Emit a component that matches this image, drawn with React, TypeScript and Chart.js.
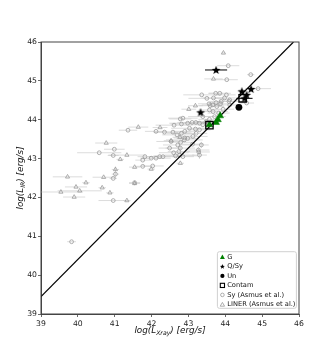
import React, { useEffect, useRef } from "react";
import { Chart, registerables } from "chart.js";
Chart.register(...registerables);

// ---- Data ----
const ticks = [39, 40, 41, 42, 43, 44, 45, 46];

// Sy (Asmus et al.)
const syX = [41.36, 40.99, 40.58, 40.96, 41.82, 41.76, 41.76, 41.02, 40.96, 40.96, 41.54, 39.83,
  43.36, 43.74, 43.85, 44.03, 43.50, 43.59, 43.77, 43.87, 43.67, 43.82, 43.39, 42.85, 42.78, 42.98,
  43.10, 42.81, 43.20, 43.30, 42.61, 42.35, 42.12, 42.58, 42.69, 42.81, 42.90, 43.03, 43.19, 43.30,
  43.21, 43.12, 42.98, 42.89, 42.79, 42.71, 42.53, 42.49, 42.78, 42.74, 42.60, 42.65, 42.76, 42.85,
  43.27, 43.30, 42.31, 42.22, 42.12, 41.99, 42.03, 44.69, 44.04, 44.89, 43.68, 43.75, 43.89, 43.98,
  44.10, 43.56, 43.66, 43.57, 43.94, 44.12, 43.71, 43.57, 43.48, 43.39, 43.35, 44.08, 44.58, 44.12,
  43.28, 43.11, 42.90];
const syY = [43.73, 43.24, 43.15, 43.08, 43.05, 42.96, 42.80, 42.60, 42.49, 41.92, 42.38, 40.86,
  44.64, 44.68, 44.68, 44.64, 44.55, 44.36, 44.34, 44.41, 44.21, 44.17, 44.08, 44.04, 44.02, 43.91,
  43.93, 43.89, 43.93, 43.91, 43.86, 43.68, 43.70, 43.68, 43.61, 43.65, 43.70, 43.78, 43.76, 43.74,
  43.65, 43.57, 43.52, 43.48, 43.42, 43.35, 43.44, 43.27, 43.27, 43.18, 43.15, 43.07, 43.09, 43.05,
  43.22, 43.09, 43.05, 43.05, 43.01, 43.01, 42.81, 45.16, 45.03, 44.80, 44.56, 44.44, 44.47, 44.56,
  44.47, 44.41, 44.38, 44.25, 44.27, 44.38, 44.08, 44.01, 43.95, 43.87, 43.35, 45.39, 44.43, 44.51,
  43.17, 43.37, 43.53];
const syXerr = [0.25, 0.28, 0.6, 0.15, 0.2, 0.2, 0.2, 0.1, 0.1, 0.4, 0.15, 0.12,
  0.5, 0.2, 0.3, 0.25, 0.5, 0.3, 0.2, 0.3, 0.4, 0.3, 0.4, 0.4, 0.3, 0.5,
  0.4, 0.3, 0.3, 0.3, 0.5, 0.3, 0.3, 0.5, 0.4, 0.4, 0.3, 0.5, 0.3, 0.3,
  0.3, 0.4, 0.3, 0.5, 0.3, 0.4, 0.4, 0.3, 0.4, 0.3, 0.4, 0.6, 0.4, 0.3,
  0.3, 0.2, 0.4, 0.3, 0.4, 0.3, 0.3, 0.1, 0.3, 0.35, 0.3, 0.2, 0.3, 0.3,
  0.3, 0.3, 0.3, 0.3, 0.3, 0.3, 0.3, 0.3, 0.3, 0.3, 0.2, 0.3, 0.2, 0.3,
  0.3, 0.3, 0.3];
const syYerr = [0, 0, 0, 0, 0, 0, 0, 0.12, 0, 0, 0.06, 0,
  0, 0, 0, 0, 0, 0, 0, 0, 0, 0, 0, 0, 0, 0,
  0, 0, 0, 0, 0, 0, 0, 0, 0, 0, 0, 0, 0, 0,
  0, 0, 0, 0, 0, 0, 0, 0, 0.08, 0, 0, 0, 0, 0,
  0.08, 0.1, 0, 0, 0, 0, 0, 0, 0, 0, 0, 0, 0, 0,
  0, 0, 0, 0, 0, 0, 0, 0, 0, 0, 0.08, 0, 0, 0,
  0, 0, 0];

// LINER (Asmus et al.)
const linerX = [41.64, 40.77, 41.33, 41.15, 41.54, 41.02, 39.72, 40.22, 40.70, 39.95, 40.66, 40.05,
  39.54, 40.87, 39.90, 41.33, 43.95, 43.68, 43.19, 43.01, 42.23, 41.99, 42.78, 41.54, 42.53, 42.77];
const linerY = [43.81, 43.40, 43.09, 42.98, 42.78, 42.72, 42.53, 42.38, 42.52, 42.27, 42.25, 42.17,
  42.14, 42.12, 42.01, 41.92, 45.72, 45.05, 44.36, 44.27, 43.80, 42.73, 42.88, 42.36, 43.46, 43.55];
const linerXerr = [0.27, 0.3, 0.5, 0.1, 0.15, 0.1, 0.4, 0.1, 0.3, 0.3, 0.1, 0.6,
  0.6, 0.1, 0.3, 0.1, 0.05, 0.25, 0.2, 0.2, 0.2, 0.1, 0.1, 0.15, 0.2, 0.2];
const linerYerr = [0, 0, 0, 0, 0, 0.08, 0, 0, 0, 0, 0, 0,
  0, 0, 0, 0, 0, 0, 0, 0, 0, 0, 0, 0.05, 0, 0];

// This work
const gX = [43.57, 43.75, 43.80, 43.86];
const gY = [43.87, 43.93, 44.0, 44.1];
const qX = [43.75, 43.33, 44.45, 44.58, 44.70, 44.52];
const qY = [45.28, 44.19, 44.73, 44.64, 44.79, 44.55];
const qXerr = [0.3, 0, 0, 0, 0, 0.22];
const unX = [44.37];
const unY = [44.32];
const cX = [43.57, 44.47];
const cY = [43.86, 44.55];

// relation line
const relX = [39, 45.85];
const relY = [39.45, 46];

const legendLabels = ["G", "Q/Sy", "Un", "Contam", "Sy (Asmus et al.)", "LINER (Asmus et al.)"];

const xTitle = ["log(L", "Xray", ") [erg/s]"];
const yTitle = ["log(L", "IR", ") [erg/s]"];

const FONT = "'DejaVu Sans', sans-serif";

function pts(xs: number[], ys: number[]) {
  return xs.map((x, i) => ({ x, y: ys[i] }));
}

function makeStar(r: number) {
  const c = document.createElement("canvas");
  const s = Math.ceil(r * 2 + 2);
  c.width = s;
  c.height = s;
  const ctx = c.getContext("2d")!;
  drawStar(ctx, s / 2, s / 2 + 0.3, r);
  return c;
}

function drawStar(ctx: CanvasRenderingContext2D, cx: number, cy: number, r: number) {
  ctx.save();
  ctx.beginPath();
  for (let i = 0; i < 10; i++) {
    const a = -Math.PI / 2 + (i * Math.PI) / 5;
    const rad = i % 2 === 0 ? r : r * 0.42;
    const px = cx + rad * Math.cos(a);
    const py = cy + rad * Math.sin(a);
    if (i === 0) ctx.moveTo(px, py);
    else ctx.lineTo(px, py);
  }
  ctx.closePath();
  ctx.fillStyle = "#000";
  ctx.fill();
  ctx.restore();
}

function drawTri(ctx: CanvasRenderingContext2D, cx: number, cy: number, r: number) {
  ctx.beginPath();
  ctx.moveTo(cx, cy - r);
  ctx.lineTo(cx + r * 0.95, cy + r * 0.65);
  ctx.lineTo(cx - r * 0.95, cy + r * 0.65);
  ctx.closePath();
}

function drawMixedTitle(ctx: CanvasRenderingContext2D, parts: string[], cx: number, cy: number, rotate: boolean) {
  const main = `italic 8.8px ${FONT}`;
  const sub = `italic 6.2px ${FONT}`;
  ctx.save();
  ctx.font = main;
  const w0 = ctx.measureText(parts[0]).width;
  const w2 = ctx.measureText(parts[2]).width;
  ctx.font = sub;
  const w1 = ctx.measureText(parts[1]).width;
  const total = w0 + w1 + w2;
  ctx.translate(cx, cy);
  if (rotate) ctx.rotate(-Math.PI / 2);
  ctx.fillStyle = "#111";
  ctx.textBaseline = "alphabetic";
  ctx.textAlign = "left";
  let x = -total / 2;
  ctx.font = main;
  ctx.fillText(parts[0], x, 0);
  x += w0;
  ctx.font = sub;
  ctx.fillText(parts[1], x, 2);
  x += w1;
  ctx.font = main;
  ctx.fillText(parts[2], x, 0);
  ctx.restore();
}

const errorBarPlugin = {
  id: "errorBars",
  beforeDatasetsDraw(chart: any) {
    const { ctx, chartArea, scales } = chart;
    const xs = scales.x;
    const ys = scales.y;
    ctx.save();
    ctx.beginPath();
    ctx.rect(chartArea.left, chartArea.top, chartArea.right - chartArea.left, chartArea.bottom - chartArea.top);
    ctx.clip();
    const drawSet = (X: number[], Y: number[], XE: number[], YE: number[] | null, color: string, lw: number) => {
      ctx.strokeStyle = color;
      ctx.lineWidth = lw;
      X.forEach((x, i) => {
        const py = ys.getPixelForValue(Y[i]);
        const px = xs.getPixelForValue(x);
        if (XE[i] > 0) {
          ctx.beginPath();
          ctx.moveTo(xs.getPixelForValue(x - XE[i]), py);
          ctx.lineTo(xs.getPixelForValue(x + XE[i]), py);
          ctx.stroke();
        }
        if (YE && YE[i] > 0) {
          ctx.beginPath();
          ctx.moveTo(px, ys.getPixelForValue(Y[i] - YE[i]));
          ctx.lineTo(px, ys.getPixelForValue(Y[i] + YE[i]));
          ctx.stroke();
        }
      });
    };
    drawSet(syX, syY, syXerr, syYerr, "rgba(205,205,205,0.7)", 1);
    drawSet(linerX, linerY, linerXerr, linerYerr, "rgba(205,205,205,0.7)", 1);
    ctx.restore();
  },
  afterDatasetsDraw(chart: any) {
    const { ctx, scales } = chart;
    const xs = scales.x;
    const ys = scales.y;
    ctx.save();
    ctx.strokeStyle = "#000";
    ctx.lineWidth = 1;
    qX.forEach((x, i) => {
      if (qXerr[i] > 0) {
        const py = ys.getPixelForValue(qY[i]);
        ctx.beginPath();
        ctx.moveTo(xs.getPixelForValue(x - qXerr[i]), py);
        ctx.lineTo(xs.getPixelForValue(x + qXerr[i]), py);
        ctx.stroke();
      }
    });
    ctx.restore();
  },
};

const decorPlugin = {
  id: "decor",
  afterDraw(chart: any) {
    const { ctx, chartArea } = chart;
    const { left, right, top, bottom } = chartArea;
    ctx.save();
    // frame
    ctx.strokeStyle = "#444";
    ctx.lineWidth = 1;
    ctx.strokeRect(left, top, right - left, bottom - top);

    // axis titles
    drawMixedTitle(ctx, xTitle, (left + right) / 2, 332.5, false);
    drawMixedTitle(ctx, yTitle, 22.5, (top + bottom) / 2, true);

    // legend
    const bx = right - 81.6;
    const by = bottom - 62.3;
    const bw = 79;
    const bh = 56.6;
    ctx.beginPath();
    const rr = 2;
    ctx.moveTo(bx + rr, by);
    ctx.lineTo(bx + bw - rr, by);
    ctx.quadraticCurveTo(bx + bw, by, bx + bw, by + rr);
    ctx.lineTo(bx + bw, by + bh - rr);
    ctx.quadraticCurveTo(bx + bw, by + bh, bx + bw - rr, by + bh);
    ctx.lineTo(bx + rr, by + bh);
    ctx.quadraticCurveTo(bx, by + bh, bx, by + bh - rr);
    ctx.lineTo(bx, by + rr);
    ctx.quadraticCurveTo(bx, by, bx + rr, by);
    ctx.closePath();
    ctx.fillStyle = "rgba(255,255,255,0.85)";
    ctx.fill();
    ctx.strokeStyle = "#d0d0d0";
    ctx.lineWidth = 1;
    ctx.stroke();

    const mx = bx + 5;
    const tx = bx + 9.8;
    legendLabels.forEach((lab, i) => {
      const y = by + 5.2 + i * 9.5;
      ctx.save();
      if (i === 0) {
        drawTri(ctx, mx, y + 0.3, 2.6);
        ctx.fillStyle = "#008000";
        ctx.fill();
      } else if (i === 1) {
        drawStar(ctx, mx, y + 0.3, 2.6);
      } else if (i === 2) {
        ctx.beginPath();
        ctx.arc(mx, y, 2.1, 0, Math.PI * 2);
        ctx.fillStyle = "#000";
        ctx.fill();
      } else if (i === 3) {
        ctx.strokeStyle = "#000";
        ctx.lineWidth = 1.1;
        ctx.strokeRect(mx - 2.1, y - 2.1, 4.2, 4.2);
      } else if (i === 4) {
        ctx.beginPath();
        ctx.arc(mx, y, 1.8, 0, Math.PI * 2);
        ctx.strokeStyle = "#999";
        ctx.lineWidth = 0.8;
        ctx.stroke();
      } else {
        drawTri(ctx, mx, y + 0.3, 2.3);
        ctx.strokeStyle = "#999";
        ctx.lineWidth = 0.8;
        ctx.stroke();
      }
      ctx.restore();
      ctx.font = `6.7px ${FONT}`;
      ctx.fillStyle = "#111";
      ctx.textBaseline = "middle";
      ctx.textAlign = "left";
      ctx.fillText(lab, tx, y + 0.3);
    });
    ctx.restore();
  },
};

export default function App() {
  const ref = useRef<HTMLCanvasElement | null>(null);

  useEffect(() => {
    if (!ref.current) return;
    const star = makeStar(4.6);
    const gray = "#9a9a9a";
    const chart = new Chart(ref.current, {
      type: "scatter",
      data: {
        datasets: [
          {
            label: "Q/Sy",
            data: pts(qX, qY),
            pointStyle: star as any,
            pointRadius: 4.6,
            order: 1,
          },
          {
            label: "Un",
            data: pts(unX, unY),
            pointStyle: "circle",
            pointRadius: 3.4,
            backgroundColor: "#000",
            borderColor: "#000",
            borderWidth: 0,
            order: 2,
          },
          {
            label: "Contam",
            data: pts(cX, cY),
            pointStyle: "rect",
            pointRadius: 5.2,
            backgroundColor: "rgba(0,0,0,0)",
            borderColor: "#000",
            borderWidth: 1.3,
            order: 3,
          },
          {
            label: "G",
            data: pts(gX, gY),
            pointStyle: "triangle",
            pointRadius: 4,
            backgroundColor: "#008000",
            borderColor: "#008000",
            borderWidth: 0.5,
            order: 4,
          },
          {
            label: "relation",
            data: pts(relX, relY),
            showLine: true,
            pointRadius: 0,
            borderColor: "#000",
            borderWidth: 1.2,
            order: 5,
          } as any,
          {
            label: "LINER (Asmus et al.)",
            data: pts(linerX, linerY),
            pointStyle: "triangle",
            pointRadius: 2.4,
            backgroundColor: "rgba(255,255,255,0)",
            borderColor: gray,
            borderWidth: 0.8,
            order: 6,
          },
          {
            label: "Sy (Asmus et al.)",
            data: pts(syX, syY),
            pointStyle: "circle",
            pointRadius: 1.9,
            backgroundColor: "rgba(255,255,255,0)",
            borderColor: gray,
            borderWidth: 0.8,
            order: 7,
          },
        ],
      },
      options: {
        responsive: false,
        animation: false,
        events: [],
        layout: { padding: { top: 42, right: 34, bottom: 0, left: 0 } },
        plugins: { legend: { display: false }, tooltip: { enabled: false } },
        scales: {
          x: {
            type: "linear",
            min: 39,
            max: 46,
            afterFit: (s: any) => {
              s.height = 39;
            },
            afterBuildTicks: (s: any) => {
              s.ticks = ticks.map((v) => ({ value: v }));
            },
            ticks: {
              font: { family: FONT, size: 7.7 },
              color: "#222",
              padding: 2,
              maxRotation: 0,
            },
            grid: { display: true, drawOnChartArea: false, drawTicks: true, tickLength: 3, color: "#444", lineWidth: 0.8 },
            border: { display: true, color: "#444", width: 1 },
          },
          y: {
            type: "linear",
            min: 39,
            max: 46,
            afterFit: (s: any) => {
              s.width = 41;
            },
            afterBuildTicks: (s: any) => {
              s.ticks = ticks.map((v) => ({ value: v }));
            },
            ticks: {
              font: { family: FONT, size: 7.7 },
              color: "#222",
              padding: 1,
            },
            grid: { display: true, drawOnChartArea: false, drawTicks: true, tickLength: 3, color: "#444", lineWidth: 0.8 },
            border: { display: true, color: "#444", width: 1 },
          },
        },
      },
      plugins: [errorBarPlugin, decorPlugin],
    });
    return () => chart.destroy();
  }, []);

  return (
    <div style={{ position: "absolute", left: 0, top: 0, width: 333, height: 353, background: "#fff" }}>
      <canvas ref={ref} width={333} height={353} style={{ width: 333, height: 353 }} />
    </div>
  );
}
